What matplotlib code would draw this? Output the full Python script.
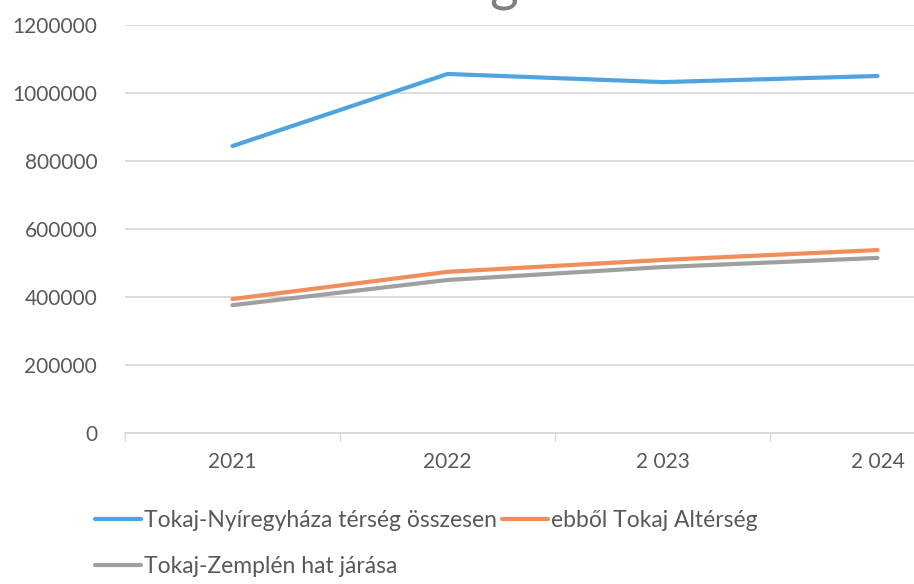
import matplotlib
matplotlib.use("Agg")
import matplotlib.pyplot as plt
from matplotlib.ticker import FixedLocator, NullFormatter

plt.rcParams['font.family'] = ['Lato', 'DejaVu Sans']

years = ["2021", "2022", "2 023", "2 024"]
total_region = [844000, 1056000, 1032000, 1050000]
tokaj_sub = [394000, 474000, 509000, 538000]
zemplen_six = [376000, 450000, 488000, 515000]

labels = ["Tokaj-Nyíregyháza térség összesen",
          "ebből Tokaj Altérség",
          "Tokaj-Zemplén hat járása"]
colors = ["#4FA3E0", "#F28E5B", "#A0A0A0"]
text_col = "#595959"

W, H = 914, 584
fig = plt.figure(figsize=(W / 100, H / 100), dpi=100)
# plot area runs past the right edge, like the cropped original
ax = fig.add_axes([125 / W, (H - 433) / H, 860 / W, 408 / H])

x = list(range(len(years)))
l1, = ax.plot(x, total_region, color=colors[0], lw=3, solid_capstyle="round", zorder=4)
l2, = ax.plot(x, tokaj_sub, color=colors[1], lw=3, solid_capstyle="round", zorder=3)
l3, = ax.plot(x, zemplen_six, color=colors[2], lw=3, solid_capstyle="round", zorder=2)

ax.set_xlim(-0.5, len(years) - 0.5)
ax.set_ylim(0, 1200000)
ax.set_yticks(range(0, 1200001, 200000))
ax.set_yticklabels([str(v) for v in range(0, 1200001, 200000)])
ax.grid(axis="y", color="#D9D9D9", lw=1.3)
ax.set_axisbelow(True)

# ticks between the categories, labels at the centre
ax.xaxis.set_major_locator(FixedLocator([i - 0.5 for i in range(len(years) + 1)]))
ax.xaxis.set_major_formatter(NullFormatter())
ax.xaxis.set_minor_locator(FixedLocator(x))
ax.set_xticklabels(years, minor=True)
ax.tick_params(axis="x", which="major", length=6, width=1, color="#D9D9D9", direction="out")
ax.tick_params(axis="x", which="minor", length=0, pad=14, labelsize=15, labelcolor=text_col)
ax.tick_params(axis="y", length=0, pad=20, labelsize=15, labelcolor=text_col)

for s in ["top", "right", "left"]:
    ax.spines[s].set_visible(False)
ax.spines["bottom"].set_color("#D9D9D9")
ax.spines["bottom"].set_linewidth(1.3)

# title is cut off at the top of the image; only a descender shows
fig.text(504 / W, 1 + 1 / H, "g", fontsize=40, color="#808080",
         ha="center", va="baseline")

fig.legend([l1, l3, l2], [labels[0], labels[2], labels[1]], ncol=2,
           loc="upper left", bbox_to_anchor=(95 / W, (H - 510) / H),
           frameon=False, fontsize=16.5, labelcolor=text_col,
           handlelength=2.0, handletextpad=0.12, columnspacing=0.25,
           labelspacing=1.1, borderpad=0, borderaxespad=0)

fig.savefig("out.png", dpi=100)
